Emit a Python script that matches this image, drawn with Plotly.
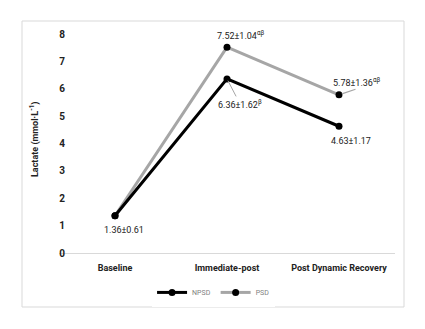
import plotly.graph_objects as go

# Blood lactate at three time points for two protocols
timepoints = ["Baseline", "Immediate-post", "Post Dynamic Recovery"]
npsd_mean = [1.36, 6.36, 4.63]
psd_mean = [1.36, 7.52, 5.78]
npsd_labels = ["1.36±0.61", "6.36±1.62<sup>β</sup>", "4.63±1.17"]
psd_labels = ["", "7.52±1.04<sup>αβ</sup>", "5.78±1.36<sup>αβ</sup>"]
y_ticks = [0, 1, 2, 3, 4, 5, 6, 7, 8]
y_title = "Lactate (mmol·L<sup>-1</sup>)"

FONT = "Roboto, sans-serif"
GRAY_LINE = "#a6a6a6"

fig = go.Figure()

fig.add_trace(go.Scatter(
    x=timepoints, y=psd_mean, name="PSD", mode="lines+markers",
    line=dict(color=GRAY_LINE, width=3),
    marker=dict(color="black", size=7),
))
fig.add_trace(go.Scatter(
    x=timepoints, y=npsd_mean, name="NPSD", mode="lines+markers",
    line=dict(color="black", width=3),
    marker=dict(color="black", size=7),
))

ann = []
lab_font = dict(family=FONT, size=9, color="#222222")
# NPSD value labels
ann.append(dict(x=timepoints[0], y=npsd_mean[0], text=npsd_labels[0],
                showarrow=False, yshift=-14, xshift=9, font=lab_font))
ann.append(dict(x=timepoints[1], y=npsd_mean[1], text=npsd_labels[1],
                showarrow=True, arrowhead=0, arrowwidth=1, arrowcolor=GRAY_LINE,
                ax=13, ay=25, standoff=2, font=lab_font))
ann.append(dict(x=timepoints[2], y=npsd_mean[2], text=npsd_labels[2],
                showarrow=False, yshift=-15, xshift=12, font=lab_font))
# PSD value labels
ann.append(dict(x=timepoints[1], y=psd_mean[1], text=psd_labels[1],
                showarrow=False, yshift=12, xshift=13, font=lab_font))
ann.append(dict(x=timepoints[2], y=psd_mean[2], text=psd_labels[2],
                showarrow=False, yshift=13, xshift=17, font=lab_font))
# short leader from the PSD recovery point towards its label
ann.append(dict(x=timepoints[2], y=psd_mean[2], text=" ",
                showarrow=True, arrowhead=0, arrowwidth=1.2, arrowcolor=GRAY_LINE,
                ax=18, ay=-6, standoff=3, font=dict(size=1)))
# y-axis title, placed beside the tick labels
ann.append(dict(xref="paper", yref="paper", x=(34 - 59) / 336, y=(253 - 140) / 219,
                text=y_title, textangle=-90, showarrow=False,
                xanchor="center", yanchor="middle",
                font=dict(family=FONT, size=9, color="#222222", weight="bold")))

shapes = [
    # outer chart frame
    dict(type="rect", xref="paper", yref="paper",
         x0=(22 - 59) / 336, x1=(404 - 59) / 336,
         y0=(253 - 307) / 219, y1=(253 - 21) / 219,
         line=dict(color="#d9d9d9", width=1), layer="below"),
]

fig.update_layout(
    width=425, height=329,
    margin=dict(l=59, r=30, t=34, b=76),
    paper_bgcolor="white", plot_bgcolor="white",
    font=dict(family=FONT, color="#222222"),
    showlegend=True,
    legend=dict(orientation="h", x=0.46, y=-0.18, xanchor="center", yanchor="middle",
                font=dict(family=FONT, size=7, color="#7f7f7f"),
                traceorder="reversed", itemwidth=30),
    annotations=ann,
    shapes=shapes,
)

fig.update_xaxes(
    type="category", range=[-0.5, 2.5], showgrid=False, showline=False,
    zeroline=False, ticks="", ticklen=0, ticklabelstandoff=8,
    tickfont=dict(family=FONT, size=9, color="#222222", weight="bold"),
)
fig.update_yaxes(
    range=[0, 8], tickvals=y_ticks, showgrid=False, showline=False,
    zeroline=True, zerolinecolor="#d9d9d9", zerolinewidth=1,
    ticks="", ticklen=0, ticklabelstandoff=-7,
    tickfont=dict(family=FONT, size=10, color="#222222", weight="bold"),
)

fig.write_html("out.html")
